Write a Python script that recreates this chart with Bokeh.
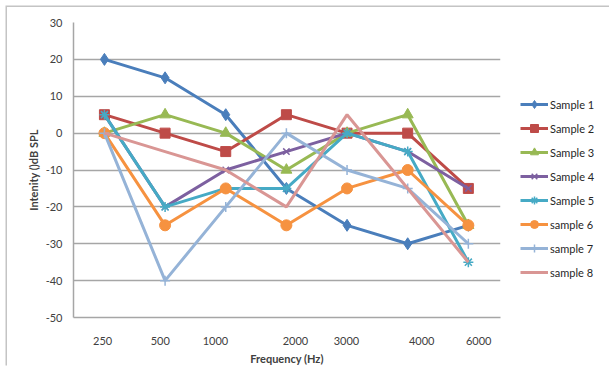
from bokeh.plotting import figure
from bokeh.models import Range1d, FixedTicker, Legend, LegendItem
from bokeh.embed import file_html
from bokeh.resources import INLINE

# ---- data ----
freq_labels = ["250", "500", "1000", "2000", "3000", "4000", "6000"]
x_idx = [0, 1, 2, 3, 4, 5, 6]
# label positions on the axis (as in the reference, slightly offset from the points)
tick_label_pos = [-0.03, 0.92, 1.83, 3.15, 3.99, 5.23, 6.17]
y_ticks = [-50, -40, -30, -20, -10, 0, 10, 20, 30]

series_names = ["Sample 1", "Sample 2", "Sample 3", "Sample 4",
                "Sample 5", "sample 6", "sample 7", "sample 8"]
s1 = [20, 15, 5, -15, -25, -30, -25]
s2 = [5, 0, -5, 5, 0, 0, -15]
s3 = [0, 5, 0, -10, 0, 5, -25]
s4 = [5, -20, -10, -5, 0, -5, -15]
s5 = [5, -20, -15, -15, 0, -5, -35]
s6 = [0, -25, -15, -25, -15, -10, -25]
s7 = [0, -40, -20, 0, -10, -15, -30]
s8 = [0, -5, -10, -20, 5, -15, -35]
series_values = [s1, s2, s3, s4, s5, s6, s7, s8]

colors = ["#4A7EBB", "#BE4B48", "#98B954", "#7D60A0",
          "#46AAC5", "#F69240", "#95B3D7", "#D99694"]
markers = ["diamond", "square", "triangle", "x", "asterisk", "circle", "cross", None]
msizes = [12, 10, 11, 9, 10, 11, 10, 0]

FONT = "Lato"

p = figure(width=602, height=359, output_backend="svg", toolbar_location=None,
           x_range=Range1d(-0.51, 6.53), y_range=Range1d(-50, 30),
           frame_width=427, frame_height=295,
           min_border_left=66, min_border_right=109,
           min_border_top=15, min_border_bottom=49)
p.styles = {"margin-left": "7px", "margin-top": "7px",
            "box-shadow": "-1.5px -1.5px 0 0 #C4C4C4"}
p.background_fill_color = "white"
p.border_fill_color = "white"
p.outline_line_color = None

# grid
p.xgrid.grid_line_color = None
p.ygrid.grid_line_color = "#A6A6A6"
p.ygrid.grid_line_width = 1.5
p.yaxis.ticker = FixedTicker(ticks=y_ticks)
p.yaxis.major_label_overrides = {t: str(t) for t in y_ticks}

# axes
for ax in (p.xaxis[0], p.yaxis[0]):
    ax.axis_line_color = "#A6A6A6"
    ax.axis_line_width = 1.5
    ax.major_tick_line_color = None
    ax.minor_tick_line_color = None
    ax.major_tick_out = 0
    ax.major_tick_in = 0
    ax.minor_tick_out = 0
    ax.minor_tick_in = 0
    ax.major_label_text_font = FONT
    ax.major_label_text_font_size = "11px"
    ax.major_label_text_color = "#404040"
    ax.axis_label_text_font = FONT
    ax.axis_label_text_font_size = "11px"
    ax.axis_label_text_font_style = "bold"
    ax.axis_label_text_color = "#404040"

p.xaxis.ticker = FixedTicker(ticks=tick_label_pos)
p.xaxis.major_label_overrides = {pos: lab for pos, lab in zip(tick_label_pos, freq_labels)}
p.xaxis.major_label_standoff = 19
p.xaxis.axis_label = "Frequency (Hz)"
p.xaxis.axis_label_standoff = 4

p.yaxis.major_label_standoff = 11
p.yaxis.axis_label = "Intenity ()dB SPL"
p.yaxis.axis_label_standoff = 3

items = []
for name, vals, col, mk, ms in zip(series_names, series_values, colors, markers, msizes):
    rs = [p.line(x_idx, vals, line_color=col, line_width=3)]
    if mk is not None:
        if mk in ("x", "asterisk", "cross"):
            rs.append(p.scatter(x_idx, vals, marker=mk, size=ms, line_color=col,
                                line_width=1.5, fill_color=col))
        else:
            rs.append(p.scatter(x_idx, vals, marker=mk, size=ms, line_color=col,
                                fill_color=col))
    items.append(LegendItem(label=name, renderers=rs))

legend = Legend(items=items, location=(20, 35), orientation="vertical",
                glyph_width=28, glyph_height=20, label_height=20, spacing=4,
                padding=0, margin=0, label_standoff=2,
                label_text_font=FONT, label_text_font_size="11px",
                label_text_color="#262626",
                border_line_color=None, background_fill_alpha=0)
p.add_layout(legend, "right")

open("out.html", "w").write(file_html(p, INLINE))
